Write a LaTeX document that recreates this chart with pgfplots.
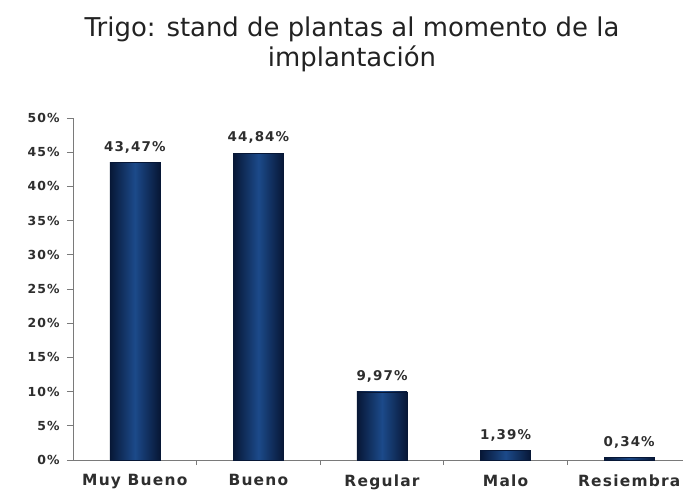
\documentclass[border=0pt]{standalone}
\usepackage{pgfplots}
\pgfplotsset{compat=1.18}
\usepackage{fontspec}
\setmainfont{DejaVu Sans}
\newfontfamily\lsfont[LetterSpace=8]{DejaVu Sans}
\definecolor{barmid}{HTML}{1C4A8A}
\definecolor{baredge}{HTML}{071736}
\definecolor{axgray}{HTML}{7A7A7A}
\definecolor{txt}{HTML}{2E2E2E}
\definecolor{ttl}{HTML}{222222}
\pgfplotsset{mybar/.style={draw=baredge, line width=0.4pt, left color=baredge, right color=baredge, middle color=barmid, shading angle=90, bar shift=0pt}}
\begin{document}
\begin{tikzpicture}
\path[use as bounding box] (-73bp,-30bp) rectangle (610bp,460bp);
\begin{axis}[
  at={(0,0)}, anchor=south west,
  scale only axis,
  width=618bp, height=342bp,
  xmin=-0.5, xmax=4.5, ymin=0, ymax=50,
  axis lines=left,
  axis line style={-, draw=axgray, line width=0.8pt},
  ybar, bar width=0.405,
  xtick={0,1,2,3,4},
  xticklabels={Muy Bueno,Bueno,Regular,Malo,Resiembra},
  major x tick style={draw=none},
  minor xtick={0.5,1.5,2.5,3.5},
  minor tick length=5bp,
  minor x tick style={draw=axgray, line width=0.8pt},
  ytick={0,5,...,50},
  yticklabel={\pgfmathprintnumber{\tick}\%},
  y tick style={draw=axgray, line width=0.8pt},
  major tick length=6bp,
  tick align=outside,
  /pgf/number format/assume math mode=true,
  yticklabel style={font=\lsfont\fontsize{12.5}{12.5}\selectfont\bfseries, text=txt, xshift=-4bp},
  xticklabel style={font=\lsfont\fontsize{15.5}{15.5}\selectfont\bfseries, text=txt, yshift=-5bp},
  nodes near coords={\pgfmathprintnumber[fixed,zerofill,precision=2,use comma]{\pgfplotspointmeta}\%},
  nodes near coords style={font=\lsfont\fontsize{13.5}{13.5}\selectfont\bfseries, text=txt, yshift=6bp},
  clip=false,
]
\addplot[mybar] coordinates {(0,43.47)};
\addplot[mybar] coordinates {(1,44.84)};
\addplot[mybar] coordinates {(2,9.97)};
\addplot[mybar] coordinates {(3,1.39)};
\addplot[mybar] coordinates {(4,0.34)};
\end{axis}
\node[anchor=base, text=ttl, font=\fontsize{26}{26}\selectfont] at (279bp,423bp) {Trigo: stand de plantas al momento de la};
\node[anchor=base, text=ttl, font=\fontsize{26}{26}\selectfont] at (279bp,393bp) {implantación};
\end{tikzpicture}
\end{document}
